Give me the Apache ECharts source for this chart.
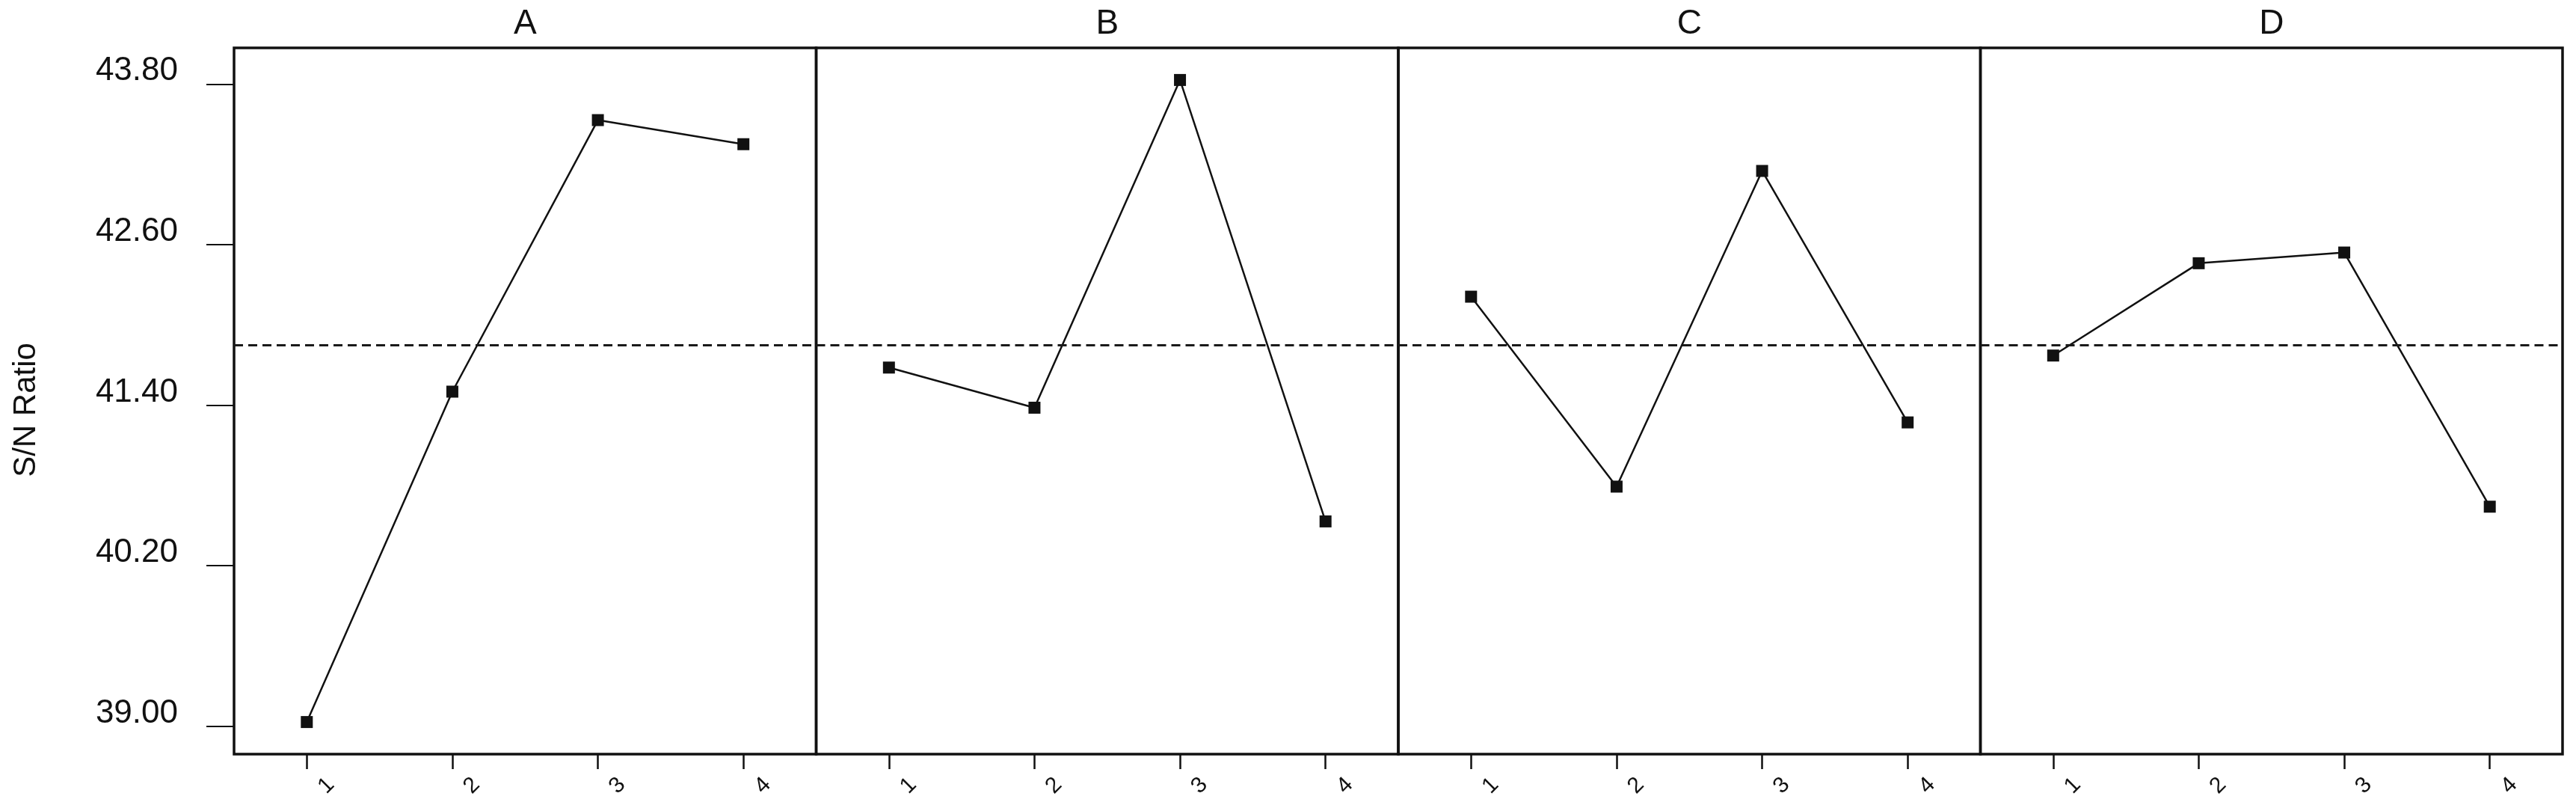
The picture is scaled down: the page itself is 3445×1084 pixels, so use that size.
<!DOCTYPE html>
<html>
<head>
<meta charset="utf-8">
<title>Main effects plot for S/N ratios</title>
<script src="https://cdn.jsdelivr.net/npm/echarts@6/dist/echarts.min.js"></script>
<style>
  html, body { margin: 0; padding: 0; background: #fff; }
  #chart { width: 3445px; height: 1084px; }
</style>
</head>
<body>
<div id="chart"></div>
<script>
// levels on the x axis of every panel
const levels = ['1', '2', '3', '4'];
const factors = ['A', 'B', 'C', 'D'];

// mean S/N ratio per level
const snA = [39.03, 41.50, 43.53, 43.35];
const snB = [41.68, 41.38, 43.83, 40.53];
const snC = [42.21, 40.79, 43.15, 41.27];
const snD = [41.77, 42.46, 42.54, 40.64];

const yTicks = [39.0, 40.2, 41.4, 42.6, 43.8];
const grandMean = 41.85;

const seriesData = [snA, snB, snC, snD];

const FONT = '"Liberation Sans", Arial, sans-serif';
const plotLeft = 313;
const panelWidth = 778.5;
const plotTop = 64;
const plotHeight = 944;

const grids = [];
const xAxes = [];
const yAxes = [];
const series = [];
const titles = [];

factors.forEach((factor, i) => {
  const left = plotLeft + i * panelWidth;
  grids.push({
    left: left,
    top: plotTop,
    width: panelWidth,
    height: plotHeight,
    containLabel: false,
    outerBoundsMode: 'none',
    show: true,
    borderColor: '#111',
    borderWidth: 3.5,
    backgroundColor: 'transparent',
  });

  titles.push({
    text: factor,
    left: left + panelWidth / 2,
    top: 9,
    padding: 0,
    textAlign: 'center',
    textStyle: { fontFamily: FONT, fontSize: 46, fontWeight: 'normal', color: '#111' },
  });

  xAxes.push({
    type: 'category',
    gridIndex: i,
    data: levels,
    boundaryGap: true,
    axisLine: { show: false },
    axisTick: {
      show: true,
      alignWithLabel: true,
      inside: false,
      length: 20,
      lineStyle: { color: '#111', width: 2.5 },
    },
    axisLabel: {
      show: true,
      rotate: 45,
      align: 'center',
      verticalAlign: 'top',
      lineHeight: 74,
      margin: 16,
      fontFamily: FONT,
      fontSize: 30,
      color: '#111',
    },
    splitLine: { show: false },
  });

  const first = i === 0;
  yAxes.push({
    type: 'value',
    gridIndex: i,
    min: 38.79,
    max: 44.07,
    axisLine: { show: false },
    axisTick: {
      show: first,
      inside: false,
      length: 37,
      customValues: yTicks,
      lineStyle: { color: '#111', width: 2 },
    },
    axisLabel: {
      show: first,
      customValues: yTicks,
      formatter: (v) => v.toFixed(2),
      margin: 75,
      verticalAlign: 'bottom',
      lineHeight: 34,
      fontFamily: FONT,
      fontSize: 44,
      color: '#111',
    },
    splitLine: { show: false },
    name: first ? '{n|S/N Ratio}' : '',
    nameLocation: 'middle',
    nameRotate: 90,
    nameGap: 257,
    nameTextStyle: {
      fontFamily: FONT,
      fontSize: 42,
      color: '#111',
      rich: {
        n: { fontFamily: FONT, fontSize: 42, color: '#111', padding: [0, 24, 0, 0] },
      },
    },
  });

  series.push({
    name: factor,
    type: 'line',
    xAxisIndex: i,
    yAxisIndex: i,
    data: seriesData[i],
    symbol: 'rect',
    symbolSize: 16,
    lineStyle: { color: '#111', width: 2.5 },
    itemStyle: { color: '#111' },
    markLine: {
      silent: true,
      symbol: ['none', 'none'],
      label: { show: false },
      lineStyle: { color: '#1a1a1a', width: 3, type: [12, 7] },
      data: [{ yAxis: grandMean }],
    },
  });
});

const chart = echarts.init(document.getElementById('chart'));
chart.setOption({
  animation: false,
  backgroundColor: '#fff',
  title: titles,
  grid: grids,
  xAxis: xAxes,
  yAxis: yAxes,
  series: series,
});
</script>
</body>
</html>
